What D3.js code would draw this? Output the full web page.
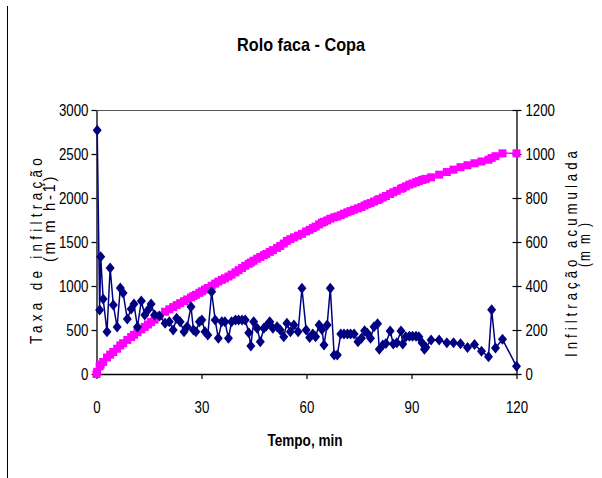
<!DOCTYPE html>
<html>
<head>
<meta charset="utf-8">
<script src="https://cdn.jsdelivr.net/npm/d3@7"></script>
<style>
  body { margin: 0; background: #fff; }
  svg { display: block; }
  text { font-family: "Liberation Sans", Arial, sans-serif; }
</style>
</head>
<body>
<svg id="chart" width="602" height="478"></svg>
<script>
// Tempo (min) of each reading
const tempo = [
  0.2, 0.9, 1.2, 1.9, 3.0, 3.9, 4.8, 5.9, 6.8, 7.6, 8.8, 9.9, 10.7, 11.7, 12.8, 13.8, 14.7, 15.6, 16.6, 18.0,
  19.6, 20.8, 21.9, 22.9, 23.9, 25.0, 25.9, 27.0, 27.7, 28.4, 29.4, 30.1, 31.0, 31.8, 32.9, 33.9, 34.8, 35.8, 36.7, 37.7,
  38.6, 39.7, 40.6, 41.6, 42.5, 43.5, 44.1, 44.9, 45.9, 46.8, 47.8, 48.5, 49.5, 50.4, 51.6, 52.5, 53.5, 54.4, 55.4, 56.4,
  57.6, 58.7, 59.9, 60.9, 61.8, 62.6, 63.6, 64.4, 65.0, 65.9, 66.8, 67.9, 68.8, 69.8, 70.7, 71.7, 72.6, 73.6, 74.7, 75.7,
  76.6, 77.4, 78.3, 79.3, 80.3, 80.8, 81.8, 82.7, 83.9, 84.8, 85.8, 87.0, 87.5, 88.4, 89.4, 90.3, 91.3, 92.1, 93.0, 93.7,
  94.1, 95.6, 97.9, 100.1, 102.0, 104.0, 106.0, 108.0, 110.0, 112.0, 112.9, 114.0, 116.0, 120.0
];

// Taxa de infiltração (mm h-1)
const taxa = [
  2770, 727, 1333, 852, 480, 1205, 784, 534, 977, 920, 625, 740, 795, 534, 830, 670, 727, 795, 670, 659,
  576, 595, 500, 633, 595, 480, 538, 765, 500, 480, 595, 614, 480, 443, 935, 614, 405, 595, 595, 405,
  595, 614, 614, 614, 614, 470, 318, 595, 519, 367, 519, 545, 595, 519, 538, 500, 424, 576, 480, 557,
  480, 974, 500, 415, 455, 424, 557, 507, 330, 557, 974, 216, 216, 455, 455, 455, 455, 455, 367, 405,
  492, 462, 405, 538, 570, 280, 330, 348, 489, 341, 356, 489, 341, 424, 430, 430, 430, 424, 356, 280,
  303, 386, 386, 356, 356, 345, 300, 335, 258, 195, 730, 295, 394, 87
];

// Infiltração acumulada (mm) at the same times
const acumulada = [
  10, 35, 43, 55, 75, 88, 100, 115, 130, 140, 155, 168, 178, 190, 203, 214, 225, 236, 247, 265,
  283, 294, 304, 313, 322, 331, 339, 348, 354, 360, 369, 376, 384, 391, 401, 411, 420, 428, 435, 443,
  452, 462, 472, 482, 492, 501, 507, 515, 524, 532, 540, 546, 555, 563, 573, 582, 593, 605, 613, 621,
  629, 637, 648, 655, 663, 670, 680, 688, 692, 698, 706, 712, 716, 722, 729, 735, 741, 747, 753, 759,
  766, 772, 777, 784, 791, 795, 802, 809, 818, 826, 833, 842, 846, 853, 861, 866, 872, 877, 882, 885,
  887, 894, 906, 918, 929, 940, 949, 958, 966, 974, 982, 990, 1003, 1003
];

const ticksTempo = [0, 30, 60, 90, 120];
const ticksTaxa = [0, 500, 1000, 1500, 2000, 2500, 3000];
const ticksAcum = [0, 200, 400, 600, 800, 1000, 1200];

const svg = d3.select("#chart");
const plot = { left: 96.5, right: 516.5, top: 110, bottom: 374 };

const x = d3.scaleLinear().domain([0, 120]).range([plot.left, plot.right]);
const yL = d3.scaleLinear().domain([0, 3000]).range([plot.bottom, plot.top]);
const yR = d3.scaleLinear().domain([0, 1200]).range([plot.bottom, plot.top]);

// compress text horizontally (narrow face look)
function squeeze(sel, factor) {
  sel.each(function () {
    const w = this.getComputedTextLength();
    d3.select(this).attr("textLength", w * factor).attr("lengthAdjust", "spacingAndGlyphs");
  });
}

// outer frame edge
svg.append("line").attr("x1", 7.5).attr("x2", 7.5).attr("y1", 6).attr("y2", 478)
  .attr("stroke", "#000").attr("stroke-width", 1);

// plot box top edge
svg.append("line").attr("x1", plot.left).attr("x2", plot.right)
  .attr("y1", plot.top + 0.5).attr("y2", plot.top + 0.5)
  .attr("stroke", "#555").attr("stroke-width", 1);

function styleAxis(g) {
  g.selectAll("path.domain").attr("stroke", "#000").attr("stroke-width", 1.3);
  g.selectAll(".tick line").attr("stroke", "#000").attr("stroke-width", 1.2);
  g.selectAll(".tick text").attr("font-size", 17).attr("fill", "#000")
    .style("font-family", '"Liberation Sans", Arial, sans-serif')
    .call(squeeze, 0.78);
}

const fmt = d3.format("d");

// left axis
svg.append("g").attr("transform", `translate(${plot.left},0)`)
  .call(d3.axisLeft(yL).tickValues(ticksTaxa).tickFormat(fmt).tickSize(5).tickPadding(3).tickSizeOuter(0))
  .call(styleAxis);

// right axis (ticks cross the line)
const gR = svg.append("g").attr("transform", `translate(${plot.right},0)`)
  .call(d3.axisRight(yR).tickValues(ticksAcum).tickFormat(fmt).tickSize(5).tickPadding(4).tickSizeOuter(0))
  .call(styleAxis);
gR.selectAll(".tick line").attr("x1", -4);

// bottom axis
svg.append("g").attr("transform", `translate(0,${plot.bottom})`)
  .call(d3.axisBottom(x).tickValues(ticksTempo).tickFormat(fmt).tickSize(5).tickPadding(22).tickSizeOuter(0))
  .call(styleAxis);

// cumulative infiltration line + squares
const acumData = [{ t: 0, v: 0 }].concat(tempo.map((t, i) => ({ t, v: acumulada[i] })));
const lineR = d3.line().x(d => x(d.t)).y(d => yR(d.v));
svg.append("path").datum(acumData).attr("d", lineR)
  .attr("fill", "none").attr("stroke", "#FF00FF").attr("stroke-width", 1.5);
svg.append("g").selectAll("rect").data(acumData).join("rect")
  .attr("x", d => x(d.t) - 4).attr("y", d => yR(d.v) - 4)
  .attr("width", 8).attr("height", 8).attr("fill", "#FF00FF");

// infiltration rate line + diamonds
const taxaData = tempo.map((t, i) => ({ t, v: taxa[i] }));
const lineL = d3.line().x(d => x(d.t)).y(d => yL(d.v));
svg.append("path").datum(taxaData).attr("d", lineL)
  .attr("fill", "none").attr("stroke", "#000080").attr("stroke-width", 1.5);
svg.append("g").selectAll("path").data(taxaData).join("path")
  .attr("transform", d => `translate(${x(d.t)},${yL(d.v)})`)
  .attr("d", "M0,-5.5L4.5,0L0,5.5L-4.5,0Z").attr("fill", "#000080");

// title
svg.append("text").attr("x", 301).attr("y", 51).attr("text-anchor", "middle")
  .attr("font-size", 19).attr("font-weight", "bold")
  .attr("textLength", 128).attr("lengthAdjust", "spacingAndGlyphs")
  .text("Rolo faca - Copa");

// x title
svg.append("text").attr("x", 305).attr("y", 446).attr("text-anchor", "middle")
  .attr("font-size", 16).attr("font-weight", "bold")
  .attr("textLength", 75).attr("lengthAdjust", "spacingAndGlyphs")
  .text("Tempo, min");

// left y title
svg.append("text").attr("transform", "translate(42,249) rotate(-90)").attr("text-anchor", "middle")
  .attr("font-size", 17).attr("letter-spacing", 5.4)
  .attr("textLength", 190).attr("lengthAdjust", "spacingAndGlyphs")
  .text("Taxa de infiltração");
svg.append("text").attr("transform", "translate(55,218) rotate(-90)").attr("text-anchor", "middle")
  .attr("font-size", 17).attr("letter-spacing", 3)
  .attr("textLength", 88).attr("lengthAdjust", "spacingAndGlyphs")
  .text("(m m h-1)");

// right y title
svg.append("text").attr("transform", "translate(577,252) rotate(-90)").attr("text-anchor", "middle")
  .attr("font-size", 17).attr("letter-spacing", 5.1)
  .attr("textLength", 210).attr("lengthAdjust", "spacingAndGlyphs")
  .text("Infiltração acumulada");
svg.append("text").attr("transform", "translate(590,244) rotate(-90)").attr("text-anchor", "middle")
  .attr("font-size", 17).attr("letter-spacing", 3)
  .attr("textLength", 46).attr("lengthAdjust", "spacingAndGlyphs")
  .text("(m m )");
</script>
</body>
</html>
